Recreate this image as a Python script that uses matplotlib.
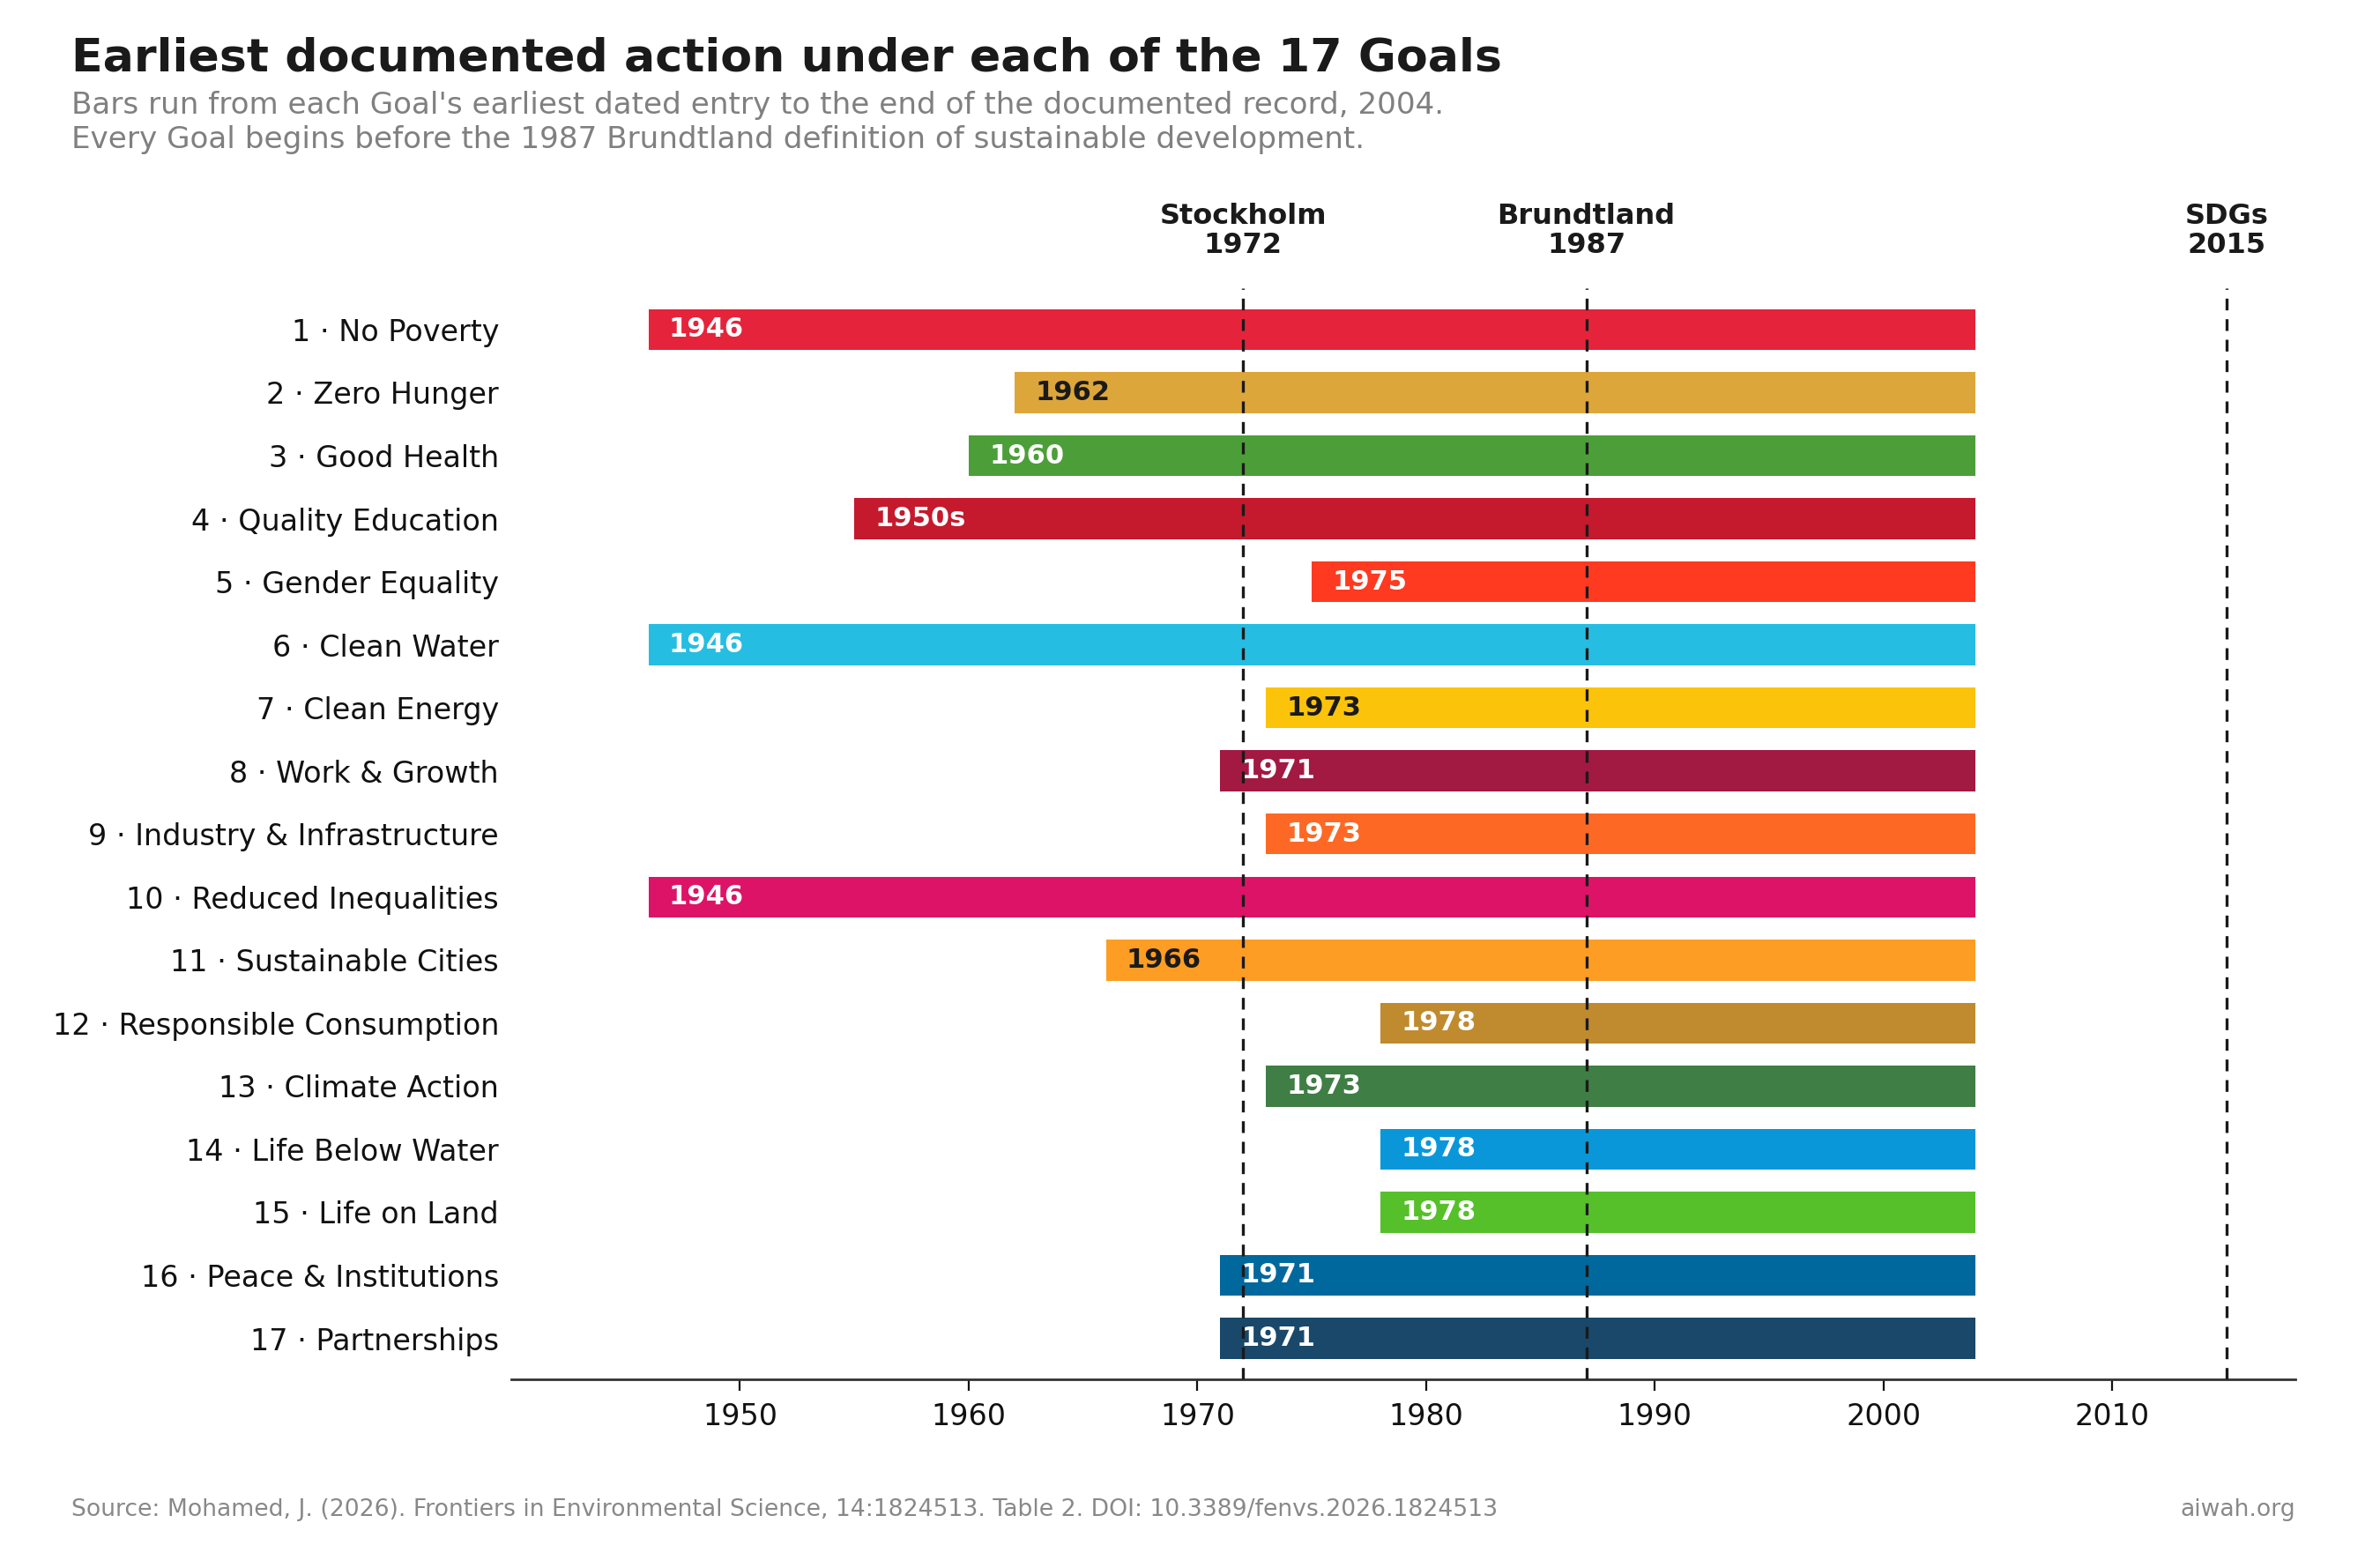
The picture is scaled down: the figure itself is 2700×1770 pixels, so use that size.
import matplotlib
matplotlib.use("Agg")
import matplotlib.pyplot as plt
import matplotlib.transforms as mtransforms

goals = ["1 · No Poverty", "2 · Zero Hunger", "3 · Good Health", "4 · Quality Education",
         "5 · Gender Equality", "6 · Clean Water", "7 · Clean Energy", "8 · Work & Growth",
         "9 · Industry & Infrastructure", "10 · Reduced Inequalities", "11 · Sustainable Cities",
         "12 · Responsible Consumption", "13 · Climate Action", "14 · Life Below Water",
         "15 · Life on Land", "16 · Peace & Institutions", "17 · Partnerships"]
start_year = [1946, 1962, 1960, 1955, 1975, 1946, 1973, 1971, 1973, 1946, 1966,
              1978, 1973, 1978, 1978, 1971, 1971]
start_label = ["1946", "1962", "1960", "1950s", "1975", "1946", "1973", "1971", "1973",
               "1946", "1966", "1978", "1973", "1978", "1978", "1971", "1971"]
colors = ["#E5243B", "#DDA63A", "#4C9F38", "#C5192D", "#FF3A21", "#26BDE2", "#FCC30B",
          "#A21942", "#FD6925", "#DD1367", "#FD9D24", "#BF8B2E", "#3F7E44", "#0A97D9",
          "#56C02B", "#00689D", "#19486A"]
dark_text = [False, True, False, False, False, False, True, False, False, False, True,
             False, False, False, False, False, False]
record_end = 2004

milestone_names = ["Stockholm", "Brundtland", "SDGs"]
milestone_years = [1972, 1987, 2015]

fig = plt.figure(figsize=(13.5, 8.85), dpi=200)
ax = fig.add_axes([0.2148, 0.1158, 0.9644 - 0.2148, 0.815 - 0.1158])

ypos = list(range(len(goals)))
widths = [record_end - s for s in start_year]
ax.barh(ypos, widths, left=start_year, height=0.65, color=colors, zorder=2)

for y, s, lab, dk in zip(ypos, start_year, start_label, dark_text):
    ax.text(s + 0.9, y, lab, va="center", ha="left", fontsize=11, fontweight="bold",
            color="#1a1a1a" if dk else "white", zorder=3)

trans = mtransforms.blended_transform_factory(ax.transData, ax.transAxes)
for name, yr in zip(milestone_names, milestone_years):
    ax.axvline(yr, color="#1a1a1a", lw=1.2, ls=(0, (4, 3)), zorder=4)
    ax.text(yr, 1.027, f"{name}\n{yr}", transform=trans, ha="center", va="bottom",
            fontsize=11.5, fontweight="bold", color="#1a1a1a", linespacing=1.1)

ax.set_xlim(1940, 2018)
ax.set_ylim(len(goals) - 0.35, -0.65)
ax.set_yticks(ypos)
ax.set_yticklabels(goals, fontsize=12, color="#111111")
ax.set_xticks([1950, 1960, 1970, 1980, 1990, 2000, 2010])
ax.tick_params(axis="x", labelsize=12, length=4.5, width=0.8, pad=5, colors="#111111")
ax.tick_params(axis="y", length=0, pad=5)
for sp in ["top", "right", "left"]:
    ax.spines[sp].set_visible(False)
ax.spines["bottom"].set_color("#333333")
ax.spines["bottom"].set_linewidth(1.0)

fig.text(0.03, 0.9548, "Earliest documented action under each of the 17 Goals",
         fontsize=18.8, fontweight="bold", color="#1a1a1a", va="baseline")
fig.text(0.03, 0.9272, "Bars run from each Goal's earliest dated entry to the end of the documented record, 2004.",
         fontsize=12.3, color="#808080", va="baseline")
fig.text(0.03, 0.9050, "Every Goal begins before the 1987 Brundtland definition of sustainable development.",
         fontsize=12.3, color="#808080", va="baseline")
fig.text(0.03, 0.0282, "Source: Mohamed, J. (2026). Frontiers in Environmental Science, 14:1824513. Table 2. DOI: 10.3389/fenvs.2026.1824513",
         fontsize=9.6, color="#888888", va="baseline")
fig.text(0.9644, 0.0282, "aiwah.org", fontsize=9.6, color="#888888", va="baseline", ha="right")

fig.savefig("out.png", dpi=200)
